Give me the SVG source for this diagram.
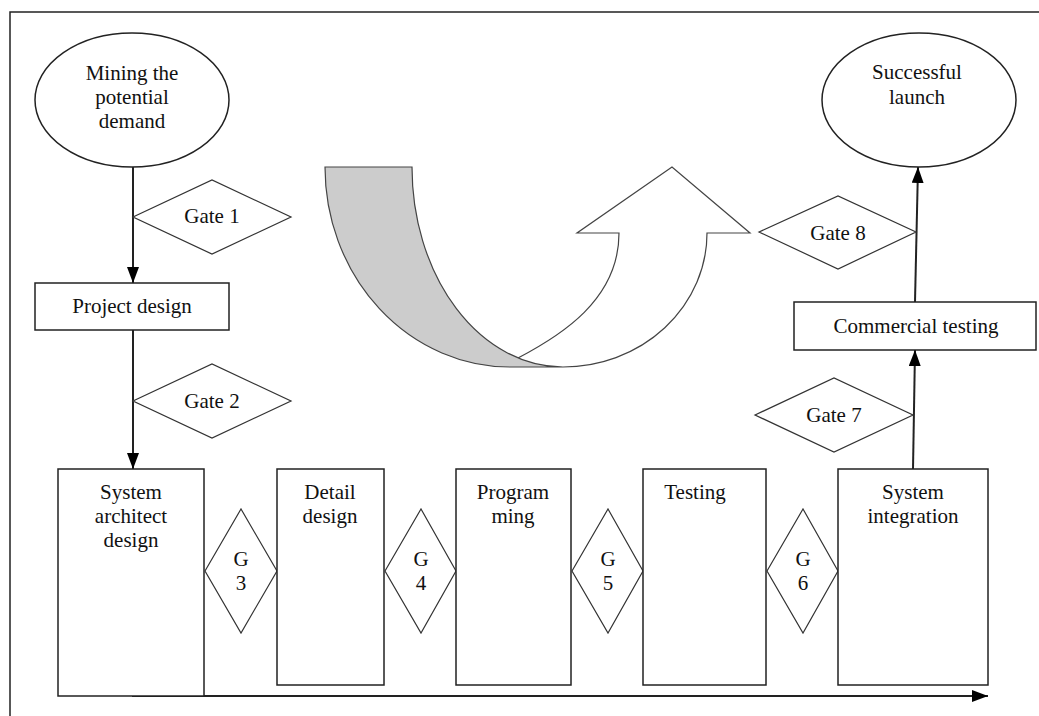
<svg xmlns="http://www.w3.org/2000/svg" width="1039" height="716" viewBox="0 0 1039 716">
<defs>
<marker id="ah" viewBox="0 0 16 12" refX="16" refY="6" markerWidth="16" markerHeight="12" markerUnits="userSpaceOnUse" orient="auto">
<path d="M0,0 L16,6 L0,12 Z" fill="#000"/>
</marker>
</defs>
<style>
.s{fill:#fff;stroke:#222;stroke-width:1.5}
.d{fill:#fff;stroke:#333;stroke-width:1.2}
.t{font-family:"Liberation Serif","Times New Roman",serif;font-size:21px;fill:#111;text-anchor:middle}
.c{fill:none;stroke:#222;stroke-width:2}
</style>
<rect width="1039" height="716" fill="#fff"/>
<path d="M10,716 L10,12 L1039,12" fill="none" stroke="#222" stroke-width="1.5"/>

<g id="uturn">
<path d="M518,358 C560,336 619,300 619,233 L577,233 L672,167 L750,233 L707,233 A144,134 0 0 1 563,367" fill="#fff" stroke="#444" stroke-width="1.2"/>
<path d="M325,167 L412,167 A151,200 0 0 0 563,367 L510,367 A185,200 0 0 1 325,167 Z" fill="#cccccc" stroke="#444" stroke-width="1.2"/>
</g>

<g id="connectors">
<line class="c" x1="133" y1="167" x2="133" y2="283" marker-end="url(#ah)"/>
<line class="c" x1="133" y1="330" x2="133" y2="469" marker-end="url(#ah)"/>
<line class="c" x1="913" y1="469" x2="915" y2="350" marker-end="url(#ah)"/>
<line class="c" x1="915" y1="302" x2="918" y2="167" marker-end="url(#ah)"/>
<line class="c" x1="132" y1="696" x2="988" y2="696" marker-end="url(#ah)"/>
</g>

<g id="mining">
<ellipse class="s" cx="132" cy="100" rx="97" ry="67"/>
<text class="t" x="132" y="80">Mining the</text>
<text class="t" x="132" y="104">potential</text>
<text class="t" x="132" y="128">demand</text>
</g>
<g id="gate1">
<polygon class="d" points="133,217 212,180 291,217 212,254"/>
<text class="t" x="212" y="223">Gate 1</text>
</g>
<g id="project">
<rect class="s" x="35" y="283" width="194" height="47"/>
<text class="t" x="132" y="313">Project design</text>
</g>
<g id="gate2">
<polygon class="d" points="133,401 212,364 291,401 212,438"/>
<text class="t" x="212" y="408">Gate 2</text>
</g>
<g id="sysarch">
<rect class="s" x="58" y="469" width="146" height="227"/>
<text class="t" x="131" y="499">System</text>
<text class="t" x="131" y="523">architect</text>
<text class="t" x="131" y="547">design</text>
</g>
<g id="g3">
<polygon class="d" points="205,571 241,509 277,571 241,633"/>
<text class="t" x="241" y="566">G</text>
<text class="t" x="241" y="590">3</text>
</g>
<g id="detail">
<rect class="s" x="277" y="469" width="107" height="216"/>
<text class="t" x="330" y="499">Detail</text>
<text class="t" x="330" y="523">design</text>
</g>
<g id="g4">
<polygon class="d" points="385,571 421,509 456,571 421,633"/>
<text class="t" x="421" y="566">G</text>
<text class="t" x="421" y="590">4</text>
</g>
<g id="programming">
<rect class="s" x="456" y="469" width="115" height="216"/>
<text class="t" x="513" y="499">Program</text>
<text class="t" x="513" y="523">ming</text>
</g>
<g id="g5">
<polygon class="d" points="572,571 608,509 643,571 608,633"/>
<text class="t" x="608" y="566">G</text>
<text class="t" x="608" y="590">5</text>
</g>
<g id="testing">
<rect class="s" x="643" y="469" width="123" height="216"/>
<text class="t" x="695" y="499">Testing</text>
</g>
<g id="g6">
<polygon class="d" points="767,571 803,509 838,571 803,633"/>
<text class="t" x="803" y="566">G</text>
<text class="t" x="803" y="590">6</text>
</g>
<g id="sysint">
<rect class="s" x="838" y="469" width="150" height="216"/>
<text class="t" x="913" y="499">System</text>
<text class="t" x="913" y="523">integration</text>
</g>
<g id="gate7">
<polygon class="d" points="755,415 834,378 913,415 834,452"/>
<text class="t" x="834" y="422">Gate 7</text>
</g>
<g id="commercial">
<rect class="s" x="794" y="302" width="242" height="48"/>
<text class="t" x="916" y="333">Commercial testing</text>
</g>
<g id="gate8">
<polygon class="d" points="759,232 838,196 916,232 838,269"/>
<text class="t" x="838" y="240">Gate 8</text>
</g>
<g id="launch">
<ellipse class="s" cx="919" cy="100" rx="97" ry="67"/>
<text class="t" x="917" y="79">Successful</text>
<text class="t" x="917" y="104">launch</text>
</g>
</svg>
